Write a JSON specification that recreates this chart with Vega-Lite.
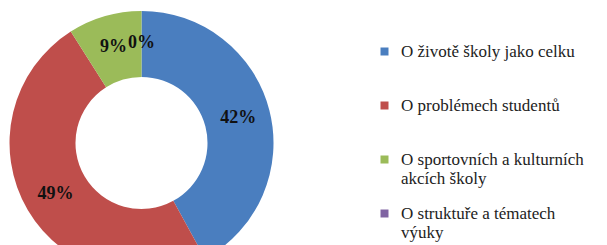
{
  "$schema": "https://vega.github.io/schema/vega-lite/v6.json",
  "width": 283,
  "height": 286,
  "padding": 0,
  "background": "white",
  "config": {
    "legend": {"labelFont": "Liberation Serif", "labelFontSize": 17, "labelColor": "#222222"},
    "style": {"guide-label": {"font": "Liberation Serif", "fontSize": 17, "fill": "#222222"}}
  },
  "data": {"values": [
    {"cat": "O životě školy jako celku", "pct": 42, "idx": 1, "lbl": "42%"},
    {"cat": "O problémech studentů", "pct": 49, "idx": 2, "lbl": "49%"},
    {"cat": "O sportovních a kulturních akcích školy", "pct": 9, "idx": 3, "lbl": "9%"},
    {"cat": "O struktuře a tématech výuky", "pct": 0, "idx": 4, "lbl": "0%"}
  ]},
  "encoding": {
    "theta": {"field": "pct", "type": "quantitative", "stack": true},
    "order": {"field": "idx", "type": "quantitative"}
  },
  "layer": [
    {
      "mark": {"type": "arc", "outerRadius": 132, "innerRadius": 66},
      "encoding": {
        "color": {
          "field": "cat", "type": "nominal",
          "scale": {
            "domain": ["O životě školy jako celku", "O problémech studentů", "O sportovních a kulturních akcích školy", "O struktuře a tématech výuky"],
            "range": ["#4A7EBF", "#BF4E4B", "#9BBB59", "#8064A2"]
          },
          "legend": {
            "title": null,
            "orient": "none",
            "legendX": 376,
            "legendY": 43,
            "symbolType": "square",
            "symbolSize": 64,
            "symbolStrokeWidth": 0,
            "labelFont": "Liberation Serif",
            "labelFontSize": 17,
            "labelColor": "#222222",
            "labelOffset": 8,
            "labelLimit": 300,
            "rowPadding": 17,
            "labelExpr": "datum.label == 'O sportovních a kulturních akcích školy' ? ['O sportovních a kulturních', 'akcích školy'] : datum.label == 'O struktuře a tématech výuky' ? ['O struktuře a tématech', 'výuky'] : [datum.label, ' ']"
          }
        }
      }
    },
    {
      "mark": {"type": "text", "radius": 100, "font": "Liberation Serif", "fontWeight": "bold", "fontSize": 18, "color": "#111111"},
      "encoding": {"text": {"field": "lbl"}}
    }
  ]
}
